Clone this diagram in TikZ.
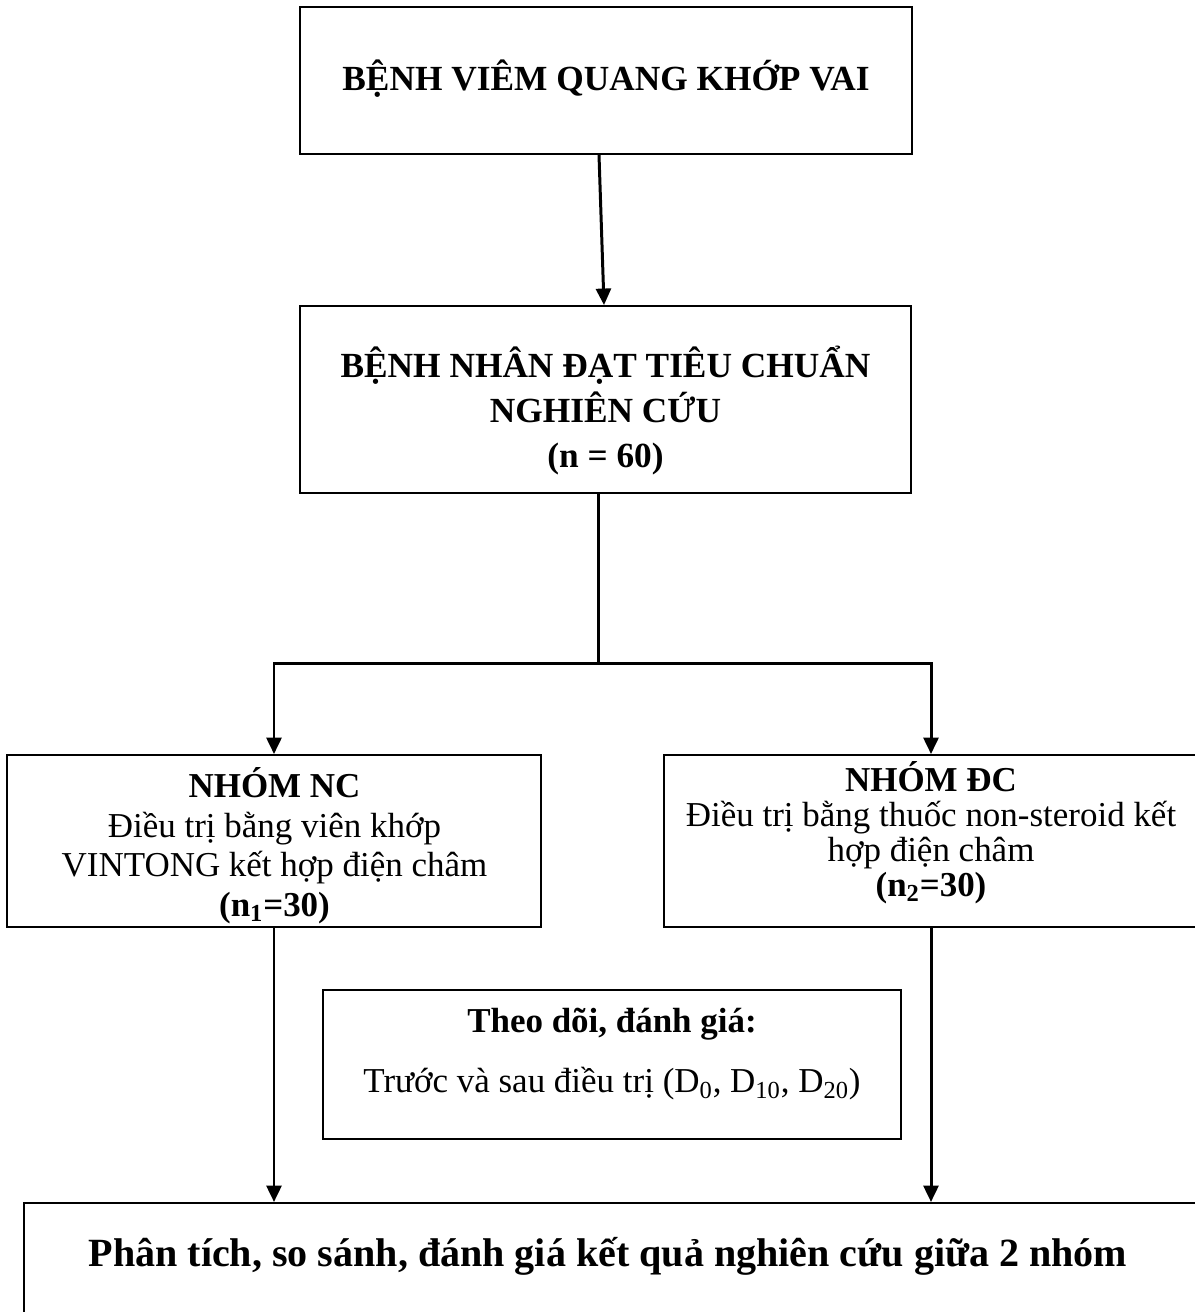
\documentclass[tikz,border=0pt]{standalone}
\usepackage{fontspec}
\setmainfont{Liberation Serif}
\usetikzlibrary{arrows.meta}

\begin{document}
\begin{tikzpicture}[x=0.02cm,y=-0.02cm,
 box/.style={draw,line width=1.1pt,inner sep=0pt},
 txt/.style={inner sep=0pt,align=center},
 link/.style={line width=1.7pt},
 arrow/.style={link,-{Triangle[length=0.33cm,width=0.3cm]}}]
\useasboundingbox (0,0) rectangle (1194,1312);
% boxes
\node[box,minimum width=12.24cm,minimum height=2.94cm] (top) at (606,80.5) {};
\node[box,minimum width=12.22cm,minimum height=3.74cm] (crit) at (605.5,399.5) {};
\node[box,minimum width=10.68cm,minimum height=3.44cm] (nc) at (274,841) {};
\node[box,minimum width=10.68cm,minimum height=3.44cm] (dc) at (931,841) {};
\node[box,minimum width=11.56cm,minimum height=2.98cm] (follow) at (612,1064.5) {};
\node[box,anchor=north west,minimum width=25cm,minimum height=4cm] (final) at (23,1202) {};
% texts
\node[txt,anchor=base,font=\fontsize{20.1}{22.5}\selectfont\bfseries] (toptext) at (606,90) {BỆNH VIÊM QUANG KHỚP VAI};
\node[txt,font=\fontsize{20.1}{25.6}\selectfont\bfseries] (crittext) at (605.5,410.5) {BỆNH NHÂN ĐẠT TIÊU CHUẨN\\NGHIÊN CỨU\\(n = 60)};
\node[txt,font=\fontsize{19.9}{22.5}\selectfont] (nctext) at (274.5,845.6) {\textbf{NHÓM NC}\\Điều trị bằng viên khớp\\VINTONG kết hợp điện châm\\\textbf{(n\textsubscript{1}=30)}};
\node[txt,font=\fontsize{19.9}{19.9}\selectfont] (dctext) at (931,832.6) {\textbf{NHÓM ĐC}\\Điều trị bằng thuốc non-steroid kết\\hợp điện châm\\\textbf{(n\textsubscript{2}=30)}};
\node[txt,font=\fontsize{19.9}{22.5}\selectfont] (followtext) at (612,1054) {\textbf{Theo dõi, đánh giá:}\\[12pt]Trước và sau điều trị (D\textsubscript{0}, D\textsubscript{10}, D\textsubscript{20})};
\node[txt,anchor=base,font=\fontsize{22.8}{25}\selectfont\bfseries] (finaltext) at (608,1266) {Phân tích, so sánh, đánh giá kết quả nghiên cứu giữa 2 nhóm};
% connectors
\coordinate (fork) at (598,663);
\draw[arrow] ([xshift=-0.14cm]top.south) -- ([xshift=-0.03cm]crit.north);
\draw[link] (crit.south -| fork) -- (fork);
\draw[arrow] (fork) -| (nc.north);
\draw[arrow] (fork) -| (dc.north);
\draw[arrow] (nc.south) -- (nc.south |- final.north);
\draw[arrow] (dc.south) -- (dc.south |- final.north);
\end{tikzpicture}
\end{document}
